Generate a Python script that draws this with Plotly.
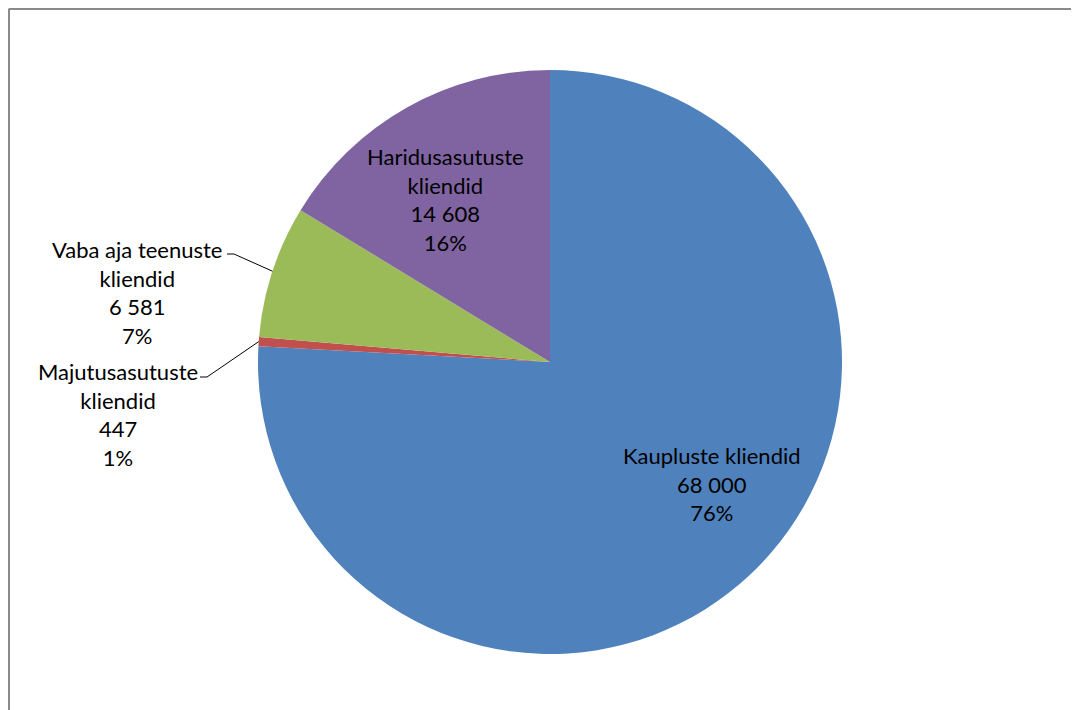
import math
import plotly.graph_objects as go

# data
categories = ["Kaupluste kliendid", "Majutusasutuste<br>kliendid",
              "Vaba aja teenuste<br>kliendid", "Haridusasutuste<br>kliendid"]
values = [68000, 447, 6581, 14608]
pct_labels = ["76%", "1%", "7%", "16%"]
colors = ["#4F81BD", "#C0504D", "#9BBB59", "#8064A2"]

OFF = 8  # page body margin
W, H = 1079 - OFF, 710 - OFF
CX, CY, R = 550, 362, 292
FONT = "Lato"


def px(x):
    return (x - OFF) / W


def py(y):
    return 1 - (y - OFF) / H


def edge_point(i):
    total = sum(values)
    start = sum(values[:i]) / total
    mid = (start + values[i] / total / 2) * 2 * math.pi
    return CX + R * math.sin(mid), CY - R * math.cos(mid)


fig = go.Figure(go.Pie(
    labels=[c.replace("<br>", " ") for c in categories],
    values=values,
    sort=False,
    direction="clockwise",
    rotation=0,
    marker=dict(colors=colors, line=dict(width=0)),
    textinfo="none",
    hoverinfo="label+value+percent",
    domain=dict(x=[px(CX - R), px(CX + R)], y=[py(CY + R), py(CY - R)]),
    showlegend=False,
))

# label block centres (pixels) and which ones get leader lines
label_pos = [(712, 484), (118, 414), (137, 292), (445, 199)]
leader_start = {1: (200, 377), 2: (227, 254)}

for i, (cat, v, p) in enumerate(zip(categories, values, pct_labels)):
    txt = f"{cat}<br>{v:,}".replace(",", " ") + f"<br>{p}"
    lx, ly = label_pos[i]
    fig.add_annotation(x=px(lx), y=py(ly), xref="paper", yref="paper",
                       text=txt, showarrow=False, align="center",
                       xanchor="center", yanchor="middle",
                       font=dict(family=FONT, size=22, color="#000000"))
    if i in leader_start:
        sx, sy = leader_start[i]
        ex, ey = edge_point(i)
        fig.add_shape(type="path", xref="paper", yref="paper",
                      path=f"M {px(sx)} {py(sy)} L {px(sx + 7)} {py(sy)} L {px(ex)} {py(ey)}",
                      line=dict(color="#000000", width=1))

# chart area border: only the top and left edges fall inside the picture
border = dict(color="#8a8a8a", width=2)
fig.add_shape(type="line", xref="paper", yref="paper",
              x0=px(8.5), x1=1, y0=py(9), y1=py(9), line=border, layer="below")
fig.add_shape(type="line", xref="paper", yref="paper",
              x0=px(9), x1=px(9), y0=0, y1=py(9), line=border, layer="below")

fig.update_layout(
    width=W, height=H,
    margin=dict(l=0, r=0, t=0, b=0),
    paper_bgcolor="white",
    plot_bgcolor="white",
    font=dict(family=FONT),
)

fig.write_html("out.html")
